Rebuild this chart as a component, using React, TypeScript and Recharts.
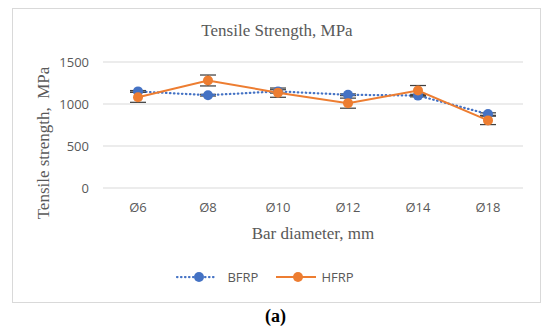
import { LineChart, Line, XAxis, YAxis, CartesianGrid, Legend, ErrorBar, Label } from 'recharts'

const categories = ['Ø6', 'Ø8', 'Ø10', 'Ø12', 'Ø14', 'Ø18']
const bfrpValues = [1150, 1105, 1150, 1110, 1100, 880]
const bfrpErrors = [10, 10, 20, 10, 15, 15]
const hfrpValues = [1080, 1280, 1135, 1010, 1160, 805]
const hfrpErrors = [60, 65, 55, 60, 60, 50]
const yTicks = [0, 500, 1000, 1500]

const BFRP_COLOR = '#4472C4'
const HFRP_COLOR = '#ED7D31'
const TEXT_GRAY = '#595959'
const GRID_GRAY = '#d9d9d9'
const SERIF = '"Liberation Serif", "Times New Roman", serif'
const SANS = '"Open Sans", "Liberation Sans", sans-serif'

const data = categories.map((c, i) => ({
  name: c,
  bfrp: bfrpValues[i],
  bfrpErr: bfrpErrors[i],
  hfrp: hfrpValues[i],
  hfrpErr: hfrpErrors[i],
}))

function LegendContent() {
  return (
    <div
      style={{
        display: 'flex',
        justifyContent: 'center',
        alignItems: 'center',
        height: 20,
        paddingLeft: 6,
        fontFamily: SANS,
        fontSize: 13,
        color: TEXT_GRAY,
      }}
    >
      <svg width={44} height={12}>
        <line x1={2} y1={6} x2={42} y2={6} stroke={BFRP_COLOR} strokeWidth={2.25} strokeDasharray="0.5 3.5" strokeLinecap="round" />
        <circle cx={24} cy={6} r={5} fill={BFRP_COLOR} />
      </svg>
      <span style={{ marginLeft: 8, marginRight: 18 }}>BFRP</span>
      <svg width={40} height={12}>
        <line x1={0} y1={6} x2={40} y2={6} stroke={HFRP_COLOR} strokeWidth={2} />
        <circle cx={22} cy={6} r={5} fill={HFRP_COLOR} />
      </svg>
      <span style={{ marginLeft: 5 }}>HFRP</span>
    </div>
  )
}

export default function App() {
  return (
    <div style={{ position: 'absolute', left: 0, top: 0, width: 550, height: 334, background: '#fff' }}>
      <div
        style={{
          position: 'absolute',
          left: 12,
          top: 8,
          width: 527,
          height: 293,
          border: `1px solid ${GRID_GRAY}`,
        }}
      />
      <div
        style={{
          position: 'absolute',
          left: 0,
          top: 21,
          width: 554,
          textAlign: 'center',
          fontFamily: SERIF,
          fontSize: 17,
          lineHeight: '20px',
          color: TEXT_GRAY,
        }}
      >
        Tensile Strength, MPa
      </div>
      <div style={{ position: 'absolute', left: 0, top: 0 }}>
        <LineChart width={550} height={300} data={data} margin={{ top: 62, right: 27, left: 0, bottom: 13 }}>
          <CartesianGrid vertical={false} stroke={GRID_GRAY} />
          <XAxis
            dataKey="name"
            height={79}
            axisLine={false}
            tickLine={false}
            padding={{ left: 35, right: 35 }}
            tickMargin={9}
            tick={{ fill: TEXT_GRAY, fontSize: 13, fontFamily: SANS }}
          >
            <Label
              content={(props: any) => {
                const vb = props.viewBox
                return (
                  <text
                    x={vb.x + vb.width / 2}
                    y={vb.y + 51}
                    textAnchor="middle"
                    fill={TEXT_GRAY}
                    fontFamily={SERIF}
                    fontSize={17}
                  >
                    Bar diameter, mm
                  </text>
                )
              }}
            />
          </XAxis>
          <YAxis
            width={103}
            domain={[0, 1500]}
            ticks={yTicks}
            axisLine={false}
            tickLine={false}
            tickMargin={8}
            tick={{ fill: TEXT_GRAY, fontSize: 13, fontFamily: SANS }}
          >
            <Label
              content={(props: any) => {
                const vb = props.viewBox
                const x = 49
                const y = vb.y + vb.height / 2 + 18
                return (
                  <text
                    x={x}
                    y={y}
                    transform={`rotate(-90 ${x} ${y})`}
                    textAnchor="middle"
                    fill={TEXT_GRAY}
                    fontFamily={SERIF}
                    fontSize={17}
                    style={{ whiteSpace: 'pre' }}
                  >
                    {'Tensile strength,  MPa'}
                  </text>
                )
              }}
            />
          </YAxis>
          <Legend verticalAlign="bottom" height={20} content={<LegendContent />} />
          <Line
            dataKey="bfrp"
            name="BFRP"
            stroke={BFRP_COLOR}
            strokeWidth={2.25}
            strokeDasharray="0.5 3.5"
            strokeLinecap="round"
            dot={{ r: 5, fill: BFRP_COLOR, stroke: 'none', strokeDasharray: '0' }}
            isAnimationActive={false}
          >
            <ErrorBar dataKey="bfrpErr" width={8} stroke="#404040" strokeWidth={1.25} direction="y" isAnimationActive={false} />
          </Line>
          <Line
            dataKey="hfrp"
            name="HFRP"
            stroke={HFRP_COLOR}
            strokeWidth={2}
            dot={{ r: 5, fill: HFRP_COLOR, stroke: 'none' }}
            isAnimationActive={false}
          >
            <ErrorBar dataKey="hfrpErr" width={8} stroke="#404040" strokeWidth={1.25} direction="y" isAnimationActive={false} />
          </Line>
        </LineChart>
      </div>
      <div
        style={{
          position: 'absolute',
          left: 0,
          top: 306,
          width: 551,
          textAlign: 'center',
          fontFamily: SERIF,
          fontSize: 18,
          fontWeight: 'bold',
          lineHeight: '20px',
          color: '#000',
        }}
      >
        (a)
      </div>
    </div>
  )
}
